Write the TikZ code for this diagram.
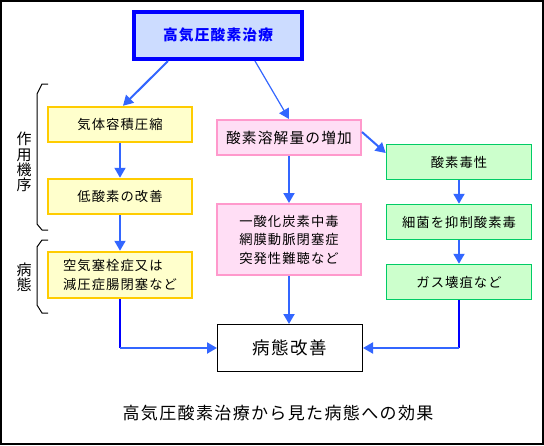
\documentclass[tikz,border=0pt]{standalone}
\usepackage{fontspec}
\newfontfamily\jpfont[LetterSpace=8]{Noto Sans CJK JP}
\definecolor{hboblue}{RGB}{0, 0, 255}
\definecolor{hboblue3}{RGB}{204, 220, 255}
\definecolor{hboarrow}{RGB}{51, 102, 255}
\definecolor{hboyellow1}{RGB}{255, 204, 0}
\definecolor{hboyellow3}{RGB}{255, 255, 204}
\definecolor{hbopink1}{RGB}{255, 153, 204}
\definecolor{hbopink3}{RGB}{255, 222, 245}
\definecolor{hbogreen1}{RGB}{0, 204, 102}
\definecolor{hbogreen3}{RGB}{204, 255, 204}
\usetikzlibrary{arrows.meta}
\tikzset{
  % Generic box (#1 = border, #2 = fill, #3 = border width).
  box/.style n args={3}{
    rectangle, draw=#1, fill=#2, line width=#3,
    minimum width=144pt, minimum height=35pt,
    inner sep=2pt, align=center,
    font=\jpfont\fontsize{13.3}{18.5}\selectfont,
    text=black,
  },
  box-blue/.style  ={box={hboblue}{hboblue3}{4pt}},
  box-yellow/.style={box={hboyellow1}{hboyellow3}{2.5pt}},
  box-pink/.style  ={box={hbopink1}{hbopink3}{2pt}},
  box-green/.style ={box={hbogreen1}{hbogreen3}{1.5pt}},
  box-plain/.style ={box={black}{white}{1pt}},
  % Arrows.
  flow/.style={
    -{Triangle[length=10pt, width=11pt]},
    line width=2pt, draw=hboarrow,
  },
  flow-thin/.style={flow, line width=1.2pt},
  stub/.style={line width=2pt, draw=hboblue},
  % Brackets at the left.
  brace/.style={line width=1pt, draw=black},
  side-label/.style={font=\jpfont\fontsize{15}{15.2}\selectfont, align=center, inner sep=0pt},
}
\begin{document}
\begin{tikzpicture}[x=1pt, y=-1pt]
  \useasboundingbox (0,0) rectangle (544,445);
  \draw[line width=2pt] (1,1) rectangle (543,444);

  % Top node -- the treatment.
  \node[box-blue, minimum width=168pt, minimum height=47pt,
        font=\jpfont\fontsize{14.7}{18}\selectfont\bfseries, text=hboblue]
    (hbo) at (218, 35.5) {高気圧酸素治療};

  % Left column -- mechanism (yellow).
  \node[box-yellow] (compress) at (120, 124.5) {気体容積圧縮};
  \node[box-yellow] (hypoxia)  at (120, 196.5) {低酸素の改善};
  \node[box-yellow, minimum height=46pt, align=left]
    (embol) at (120, 275) {空気塞栓症又は\\減圧症腸閉塞など};

  % Middle column -- dissolved oxygen (pink).
  \node[box-pink, font=\jpfont\fontsize{14.7}{18}\selectfont]
    (dissolve) at (289, 137.5) {酸素溶解量の増加};
  \node[box-pink, minimum height=71pt]
    (poison) at (289, 239.5) {一酸化炭素中毒\\網膜動脈閉塞症\\突発性難聴など};

  % Right column -- oxygen toxicity (green).
  \node[box-green, minimum width=145pt] (tox)      at (459, 162) {酸素毒性};
  \node[box-green, minimum width=145pt] (bacteria) at (459, 222) {細菌を抑制酸素毒};
  \node[box-green, minimum width=145pt] (gangrene) at (459, 282) {ガス壊疽など};

  % Result.
  \node[box-plain, minimum width=145pt, minimum height=47pt,
        font=\jpfont\fontsize{17.5}{20}\selectfont]
    (result) at (290, 348) {病態改善};

  % Side labels and brackets.
  \node[side-label] (mech) at (24, 162) {作\\用\\機\\序};
  \node[side-label] (path) at (24, 277.5) {病\\態};
  \draw[brace] (48,84) -- (42,84) -- (37,94) -- (37,224) -- (42,230) -- (48,230);
  \draw[brace] (48,240) -- (42,240) -- (37,247) -- (37,305) -- (42,313) -- (48,313);

  % Arrows from the top node.
  \draw[flow] ([xshift=-50pt]hbo.south) -- ([xshift=3pt]compress.north);
  \draw[flow-thin] ([xshift=37pt]hbo.south) -- (dissolve.north);

  % Column arrows.
  \draw[flow] (compress) -- (hypoxia);
  \draw[flow] (hypoxia) -- (embol);
  \draw[flow] (dissolve) -- (poison);
  \draw[flow] (poison.south) -- (poison.south |- result.north);
  \draw[flow] ([yshift=5.5pt]dissolve.east) -- ([yshift=9pt]tox.west);
  \draw[flow] (tox) -- (bacteria);
  \draw[flow] (bacteria) -- (gangrene);

  % Into the result from both sides.
  \coordinate (lcorner) at (embol.south |- result.west);
  \coordinate (rcorner) at (gangrene.south |- result.east);
  \draw[stub] (embol.south) -- (lcorner);
  \draw[flow] (lcorner) -- (result.west);
  \draw[stub] (gangrene.south) -- (rcorner);
  \draw[flow] (rcorner) -- (result.east);

  % Caption.
  \node[font=\jpfont\fontsize{17}{20}\selectfont] (caption) at (278, 413)
    {高気圧酸素治療から見た病態への効果};
\end{tikzpicture}
\end{document}
